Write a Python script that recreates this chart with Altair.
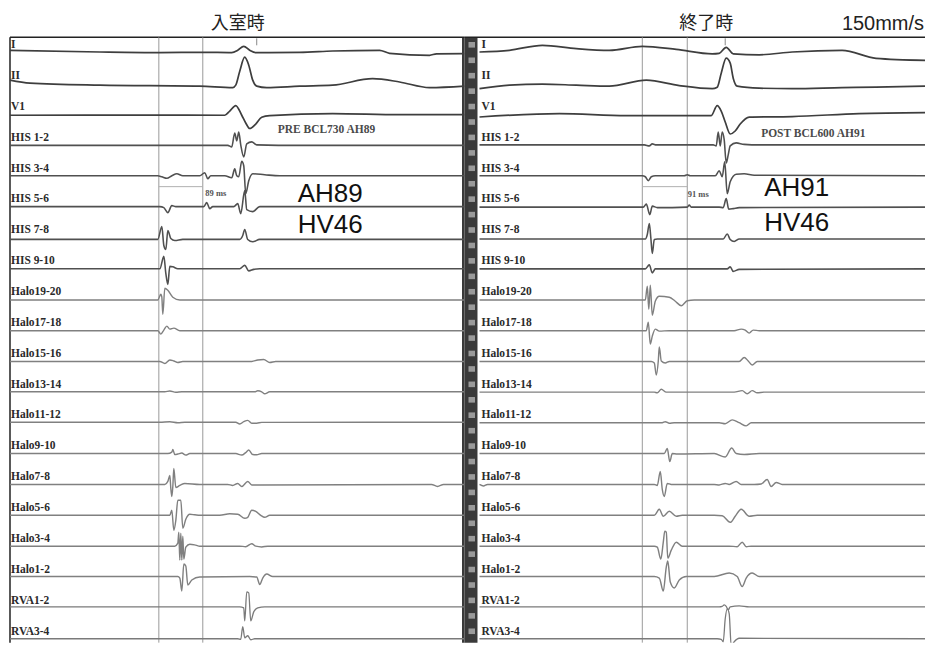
import altair as alt
import pandas as pd

# ---------------- data ----------------
CHANNELS = ["I", "II", "V1", "HIS 1-2", "HIS 3-4", "HIS 5-6", "HIS 7-8", "HIS 9-10",
            "Halo19-20", "Halo17-18", "Halo15-16", "Halo13-14", "Halo11-12",
            "Halo9-10", "Halo7-8", "Halo5-6", "Halo3-4", "Halo1-2", "RVA1-2", "RVA3-4"]
GROUPS = ["surface", "his", "cs", "rv"]
CH_GROUP = (["surface"] * 3 + ["his"] * 5 + ["cs"] * 10 + ["rv"] * 2)

# time (ms) , amplitude pairs for each channel  -- before (入室時)
PRE = {
    "I": [(0, .2), (180, .03), (300, -.03), (386, 0), (444, -.03), (456, .2), (468, .6), (480, .2), (492, -.03),
          (580, 0), (646, .13), (740, .2), (760, -.1), (840, -.3), (854, -.15), (910, -.13)],
    "II": [(0, .3), (40, 0), (180, -.2), (380, -.3), (446, -.45), (452, -.2), (460, 1.2), (470, 2.6), (478, 1.8),
           (486, .3), (494, -.3), (514, -.45), (580, -.3), (646, -.2), (726, .45), (780, .12), (840, -.45), (910, -.3)],
    "V1": [(0, -.12), (280, -.1), (430, -.12), (440, .3), (452, .85), (464, -.12), (472, -.9), (480, -1.45),
           (492, -1.0), (504, -.32), (520, -.15), (646, .05), (780, -.05), (910, -.05)],
    "HIS 1-2": [(0, -.05), (380, -.05), (436, -.05), (444, -.2), (450, 1.2), (454, .4), (458, 1.3), (462, 0),
                (468, -1.2), (474, .1), (484, .3), (494, 0), (580, -.05), (910, -.05)],
    "HIS 3-4": [(0, 0), (296, 0), (304, -.1), (314, -.25), (324, 0), (334, .2), (346, 0), (380, 0), (390, .3),
                (396, -.3), (402, 0), (430, 0), (444, -.2), (450, .7), (454, 0), (458, -.1), (464, 1.45),
                (468, 1.0), (472, -1.8), (478, -.5), (486, .2), (510, .1), (540, 0), (910, 0)],
    "HIS 5-6": [(0, 0), (300, 0), (308, -.1), (316, -.6), (324, .1), (332, 0), (388, 0), (394, .4), (400, -.2),
                (406, 0), (448, 0), (456, .3), (462, -.7), (470, 1.6), (474, -.3), (486, -.5), (500, 0), (910, 0)],
    "HIS 7-8": [(0, -.19), (296, -.19), (304, 1.1), (308, -.8), (312, -1.2), (316, .7), (322, -.1), (330, -.3),
                (346, -.19), (460, -.19), (466, .2), (470, .8), (476, -.2), (486, -.43), (500, -.19), (910, -.19)],
    "HIS 9-10": [(0, -.04), (300, -.04), (308, 1.2), (312, -.5), (316, -1.6), (320, .2), (326, .15), (336, -.04),
                 (460, -.04), (470, .3), (478, -.25), (488, -.1), (500, -.04), (910, -.04)],
    "Halo19-20": [(0, -.08), (296, -.08), (302, .5), (304, .2), (306, -1.5), (310, 1.1), (316, .9), (326, .2),
                  (340, -.08), (910, -.08)],
    "Halo17-18": [(0, -.06), (296, -.06), (302, -.4), (308, 0), (314, .4), (320, .1), (328, .2), (340, -.06),
                  (910, -.06)],
    "Halo15-16": [(0, -.05), (300, -.05), (310, -.25), (320, .1), (328, 0), (336, -.15), (346, -.05), (484, -.05),
                  (496, .1), (508, .15), (520, -.15), (532, -.05), (910, -.05)],
    "Halo13-14": [(0, 0), (310, 0), (320, .08), (332, -.05), (344, 0), (490, 0), (496, .1), (504, 0), (510, -.2),
                  (520, 0), (910, 0)],
    "Halo11-12": [(0, .05), (300, .05), (320, .1), (336, 0), (350, .05), (452, .05), (460, -.13), (468, .1),
                  (476, .23), (484, -.05), (494, -.05), (504, .03), (910, .05)],
    "Halo9-10": [(0, 0), (316, 0), (324, .15), (326, .4), (330, -.1), (336, -.05), (344, .05), (352, -.15),
                 (360, 0), (452, 0), (464, -.15), (472, .1), (478, .35), (486, -.1), (494, -.12), (504, 0), (910, 0)],
    "Halo7-8": [(0, 0), (310, 0), (316, .3), (320, .9), (322, -.4), (324, -1.2), (326, -.2), (328, 1.6),
                (332, -.3), (340, -.1), (350, .1), (380, 0), (436, 0), (446, -.1), (456, .1), (464, -.2),
                (476, .3), (484, -.05), (500, -.05), (844, 0), (856, -.2), (868, 0), (910, 0)],
    "Halo5-6": [(0, 0), (310, 0), (320, 0), (324, .5), (328, -1.5), (332, -.5), (336, 1.5), (342, 1.5),
                (346, -1.3), (352, -.4), (360, .1), (370, .05), (380, 0), (420, 0), (440, .15), (456, .1),
                (470, -.3), (476, -.2), (484, .5), (492, .4), (502, 0), (510, -.2), (520, 0), (910, 0)],
    "Halo3-4": [(0, 0), (330, 0), (336, .3), (338, 1.4), (340, -1.4), (342, 1.3), (344, -1.4), (346, 1.0),
                (348, -1.3), (352, -.1), (360, .2), (372, .1), (380, 0), (460, 0), (472, -.05), (484, .25),
                (492, 0), (504, -.08), (516, 0), (910, 0)],
    "Halo1-2": [(0, .05), (336, .05), (340, -.1), (344, -1.4), (348, 1.3), (352, 1.1), (356, -.8), (364, -.3),
                (380, 0), (480, .05), (494, 0), (500, -.75), (506, -.1), (514, .3), (526, .05), (910, .05)],
    "RVA1-2": [(0, .1), (460, .1), (468, 0), (470, -1.3), (474, 1.6), (478, 1.5), (482, -1.3), (488, -.4),
               (496, 0), (510, .1), (910, .1)],
    "RVA3-4": [(0, 0), (456, 0), (462, -.05), (466, 1.2), (470, .1), (476, .3), (482, -.1), (490, 0), (910, 0)],
}

# after (終了時)
POST = {
    "I": [(30, .03), (90, .2), (156, .7), (224, .37), (290, .2), (356, .6), (424, .3), (496, -.15), (510, -.1),
          (524, .5), (538, -.15), (590, -.25), (656, .03), (756, .2), (824, -.6), (922, -.8)],
    "II": [(30, -.54), (90, -.2), (156, -.1), (224, -.2), (290, -.3), (364, .3), (430, -.24), (496, -.55),
           (506, -.4), (514, 1.0), (524, 2.5), (532, 2.0), (538, .5), (546, -.3), (590, -.5), (656, -.55),
           (756, -.45), (824, -.4), (922, -.3)],
    "V1": [(30, -.3), (190, .05), (324, -.15), (494, -.15), (506, .85), (514, .3), (522, -.8), (532, -2.0),
           (542, -1.7), (552, -1.0), (570, -.3), (656, -.25), (790, .05), (922, .15)],
    "HIS 1-2": [(30, 0), (360, 0), (370, -.1), (376, .1), (384, 0), (498, 0), (504, -.1), (508, 1.3), (512, -.1),
                (516, 1.3), (520, .5), (524, -1.8), (528, -1.0), (532, -.1), (544, .2), (560, .05), (590, 0),
                (922, 0)],
    "HIS 3-4": [(30, 0), (356, 0), (362, -.1), (368, -.5), (374, -.1), (382, 0), (440, 0), (446, .1), (452, 0),
                (502, 0), (510, .5), (516, -.1), (521, 1.4), (526, -1.8), (532, -.6), (544, .15), (560, .2),
                (580, .05), (922, 0)],
    "HIS 5-6": [(30, -.05), (358, -.05), (364, .25), (371, -.8), (376, .05), (386, -.1), (446, -.05), (450, .15),
                (454, -.05), (510, -.05), (518, -.1), (524, .8), (529, -.25), (538, -.2), (550, -.1), (922, -.05)],
    "HIS 7-8": [(30, -.15), (362, -.15), (366, .3), (370, 1.4), (373, 0), (376, -1.6), (380, -.2), (386, -.15),
                (518, -.15), (526, .35), (532, -.2), (540, -.4), (550, -.15), (922, -.15)],
    "HIS 9-10": [(30, -.05), (362, -.05), (370, .35), (376, -.45), (382, -.05), (526, -.05), (532, .15),
                 (538, -.3), (550, -.1), (922, -.05)],
    "Halo19-20": [(30, -.08), (362, -.08), (366, 1.3), (369, -1.0), (372, 1.4), (376, -1.6), (382, -.2),
                  (390, .3), (410, .2), (422, -.2), (434, -.65), (446, -.15), (460, -.08), (922, -.08)],
    "Halo17-18": [(30, -.06), (364, -.06), (368, .8), (372, -1.4), (376, -.6), (382, .1), (390, -.1), (410, -.06),
                  (540, -.06), (554, .1), (562, 0), (570, -.3), (578, 0), (590, -.06), (922, -.06)],
    "Halo15-16": [(30, -.05), (374, -.05), (380, -.2), (384, -1.4), (388, 0), (390, 1.4), (394, 0), (402, -.2),
                  (410, -.05), (550, -.05), (560, .35), (568, 0), (576, -.4), (586, -.05), (922, -.05)],
    "Halo13-14": [(30, -.03), (380, -.03), (386, -.1), (394, .25), (404, -.03), (540, -.03), (556, .12),
                  (566, -.2), (576, .12), (586, -.1), (600, -.03), (922, -.03)],
    "Halo11-12": [(30, 0), (396, 0), (402, .1), (410, -.05), (420, 0), (510, 0), (522, -.1), (536, .28), (550, 0),
                  (564, -.32), (574, 0), (922, 0)],
    "Halo9-10": [(30, 0), (400, 0), (406, .5), (411, -.8), (416, 0), (426, -.05), (500, 0), (522, -.35),
                 (535, .55), (544, 0), (560, -.1), (590, 0), (922, 0)],
    "Halo7-8": [(30, 0), (38, -.15), (46, 0), (380, 0), (386, -.1), (392, 1.3), (396, -.5), (400, -1.2),
                (406, .1), (414, 0), (500, 0), (510, -.05), (522, .1), (530, 0), (544, .3), (554, 0), (580, 0),
                (594, .05), (606, .5), (614, -.2), (624, .2), (636, 0), (922, 0)],
    "Halo5-6": [(30, 0), (380, 0), (390, .6), (398, -.1), (410, .4), (424, -.1), (436, 0), (500, 0), (516, -.05),
                (532, -.7), (542, -.1), (554, .6), (570, -.1), (586, 0), (922, 0)],
    "Halo3-4": [(30, 0), (380, 0), (386, -.1), (393, -1.3), (398, .4), (401, 1.5), (404, 1.4), (407, -1.2),
                (414, -.4), (424, .4), (436, 0), (530, 0), (546, -.05), (556, .4), (564, -.05), (574, 0), (922, 0)],
    "Halo1-2": [(30, .05), (380, .05), (390, -.1), (398, -1.4), (404, 1.0), (407, 1.6), (412, -.5), (420, -1.1),
                (430, -.3), (444, .05), (500, .05), (530, .4), (546, .05), (556, -.95), (564, -.1), (576, .4),
                (590, .05), (922, .05)],
    "RVA1-2": [(30, .1), (510, .1), (516, .15), (520, .3), (524, .15), (528, -.2), (532, .1), (550, .2),
               (570, .1), (922, .1)],
    "RVA3-4": [(30, 0), (506, 0), (514, -.05), (518, -.3), (522, 2.0), (526, 3.0), (530, 2.5), (534, -.7),
               (540, -.3), (550, .05), (922, 0)],
}

PRE_MARKERS = [298, 386]     # ms, A-H caliper (89 ms)
POST_MARKERS = [356, 446]    # ms, A-H caliper (91 ms)
PRE_VTICK = 494
POST_VTICK = 522

# ---------------- layout constants ----------------
SPACING = 3.09
Y_DOM = [-59.1, 4.4]
TOP = 1.5
H = 635
W_L, W_R = 457, 461
XDOM_L, XDOM_R = [-4, 910], [0, 922]

COLORS = ["#3e3e3e", "#505050", "#808080", "#7a7a7a"]
WIDTHS = [1.7, 1.3, 1.05, 1.1]


def traces_df(data):
    rows = []
    for k, ch in enumerate(CHANNELS):
        for t, a in data[ch]:
            rows.append({"ch": ch, "grp": CH_GROUP[k], "t": t, "v": a - SPACING * k})
    return pd.DataFrame(rows)


def panel(data, xdom, width, label_t, markers, vtick, texts, strip):
    xs = alt.Scale(domain=xdom, nice=False, zero=False)
    ys = alt.Scale(domain=Y_DOM, nice=False, zero=False)
    X = lambda f: alt.X(f, type="quantitative", scale=xs, axis=None)
    Y = lambda f: alt.Y(f, type="quantitative", scale=ys, axis=None)

    layers = []
    # frame / strips
    if strip:
        sq = []
        for k in range(len(CHANNELS)):
            for c in (0.75, -0.8):
                lo = -SPACING * k + c - 0.28
                if lo > Y_DOM[0]:
                    sq.append({"t1": 8, "t2": 21, "v1": -SPACING * k + c + 0.28, "v2": lo})
        layers.append(alt.Chart(pd.DataFrame([{"t1": 0, "t2": 26, "v1": TOP, "v2": Y_DOM[0]}]))
                      .mark_rect(color="#3a3a3a")
                      .encode(x=X("t1"), x2="t2", y=Y("v1"), y2="v2"))
        layers.append(alt.Chart(pd.DataFrame(sq)).mark_rect(color="#9a9a9a")
                      .encode(x=X("t1"), x2="t2", y=Y("v1"), y2="v2"))
    else:
        layers.append(alt.Chart(pd.DataFrame([{"t1": 905, "t2": 910, "v1": TOP, "v2": Y_DOM[0]}]))
                      .mark_rect(color="#3a3a3a")
                      .encode(x=X("t1"), x2="t2", y=Y("v1"), y2="v2"))
        layers.append(alt.Chart(pd.DataFrame([{"t": 0, "v1": TOP, "v2": Y_DOM[0]}]))
                      .mark_rule(color="#222", strokeWidth=1.5)
                      .encode(x=X("t"), y=Y("v1"), y2="v2"))
    # top border
    layers.append(alt.Chart(pd.DataFrame([{"t1": max(xdom[0], 0), "t2": xdom[1], "v": TOP}]))
                  .mark_rule(color="#222", strokeWidth=1.6)
                  .encode(x=X("t1"), x2="t2", y=Y("v")))
    # caliper markers
    layers.append(alt.Chart(pd.DataFrame([{"t": m, "v1": TOP, "v2": Y_DOM[0]} for m in markers]))
                  .mark_rule(color="#9a9a9a", strokeWidth=1)
                  .encode(x=X("t"), y=Y("v1"), y2="v2"))
    layers.append(alt.Chart(pd.DataFrame([{"t1": markers[0], "t2": markers[1], "v": -13.45}]))
                  .mark_rule(color="#b0b0b0", strokeWidth=1)
                  .encode(x=X("t1"), x2="t2", y=Y("v")))
    layers.append(alt.Chart(pd.DataFrame([{"t": vtick, "v1": TOP - 0.1, "v2": 0.7}]))
                  .mark_rule(color="#888", strokeWidth=1)
                  .encode(x=X("t"), y=Y("v1"), y2="v2"))
    # traces
    layers.append(alt.Chart(traces_df(data)).mark_line(interpolate="monotone", strokeJoin="round", clip=True)
                  .encode(x=X("t"), y=Y("v"), detail="ch:N",
                          color=alt.Color("grp:N", scale=alt.Scale(domain=GROUPS, range=COLORS), legend=None),
                          strokeWidth=alt.StrokeWidth("grp:N", scale=alt.Scale(domain=GROUPS, range=WIDTHS),
                                                      legend=None)))
    # channel labels
    lab = pd.DataFrame({"t": [label_t] * len(CHANNELS), "v": [-SPACING * k + 0.72 for k in range(len(CHANNELS))],
                        "text": CHANNELS})
    layers.append(alt.Chart(lab).mark_text(align="left", baseline="middle", font="Liberation Serif",
                                           fontWeight="bold", fontSize=11.5, color="#2a2a2a")
                  .encode(x=X("t"), y=Y("v"), text="text:N"))
    # text annotations
    for tx in texts:
        df = pd.DataFrame([{"t": tx["t"], "v": tx["v"], "text": tx["text"]}])
        kw = {k: v for k, v in tx.items() if k not in ("t", "v", "text")}
        layers.append(alt.Chart(df).mark_text(baseline="middle", **kw)
                      .encode(x=X("t"), y=Y("v"), text="text:N"))
    return alt.layer(*layers).properties(width=width, height=H)


SERIF = dict(font="Liberation Serif", fontWeight="bold")
BIG = dict(font="Liberation Sans", fontSize=26, color="#111", align="left")
TITLE = dict(font="Noto Sans CJK JP", fontSize=18, color="#222", align="center")

left_texts = [
    dict(t=456, v=2.85, text="入室時", **TITLE),
    dict(t=536, v=-7.8, text="PRE BCL730 AH89", fontSize=11.5, color="#4a4a4a", align="left", **SERIF),
    dict(t=391, v=-14.1, text="89 ms", fontSize=8.5, color="#555", align="left", **SERIF),
    dict(t=576, v=-14.15, text="AH89", **BIG),
    dict(t=576, v=-17.3, text="HV46", **BIG),
]
right_texts = [
    dict(t=484, v=2.85, text="終了時", **TITLE),
    dict(t=920, v=2.85, text="150mm/s", font="Liberation Sans", fontSize=20, color="#222", align="right"),
    dict(t=594, v=-8.2, text="POST BCL600  AH91", fontSize=11.5, color="#4a4a4a", align="left", **SERIF),
    dict(t=447, v=-14.2, text="91 ms", fontSize=8.5, color="#555", align="left", **SERIF),
    dict(t=600, v=-13.6, text="AH91", **BIG),
    dict(t=600, v=-17.1, text="HV46", **BIG),
]

left = panel(PRE, XDOM_L, W_L, 2, PRE_MARKERS, PRE_VTICK, left_texts, strip=False)
right = panel(POST, XDOM_R, W_R, 34, POST_MARKERS, POST_VTICK, right_texts, strip=True)

chart = (alt.hconcat(left, right, spacing=0, bounds="flush")
         .properties(padding=0, background="white")
         .configure_view(stroke=None))

chart.save("out.html", embed_options={"renderer": "svg", "actions": False})
